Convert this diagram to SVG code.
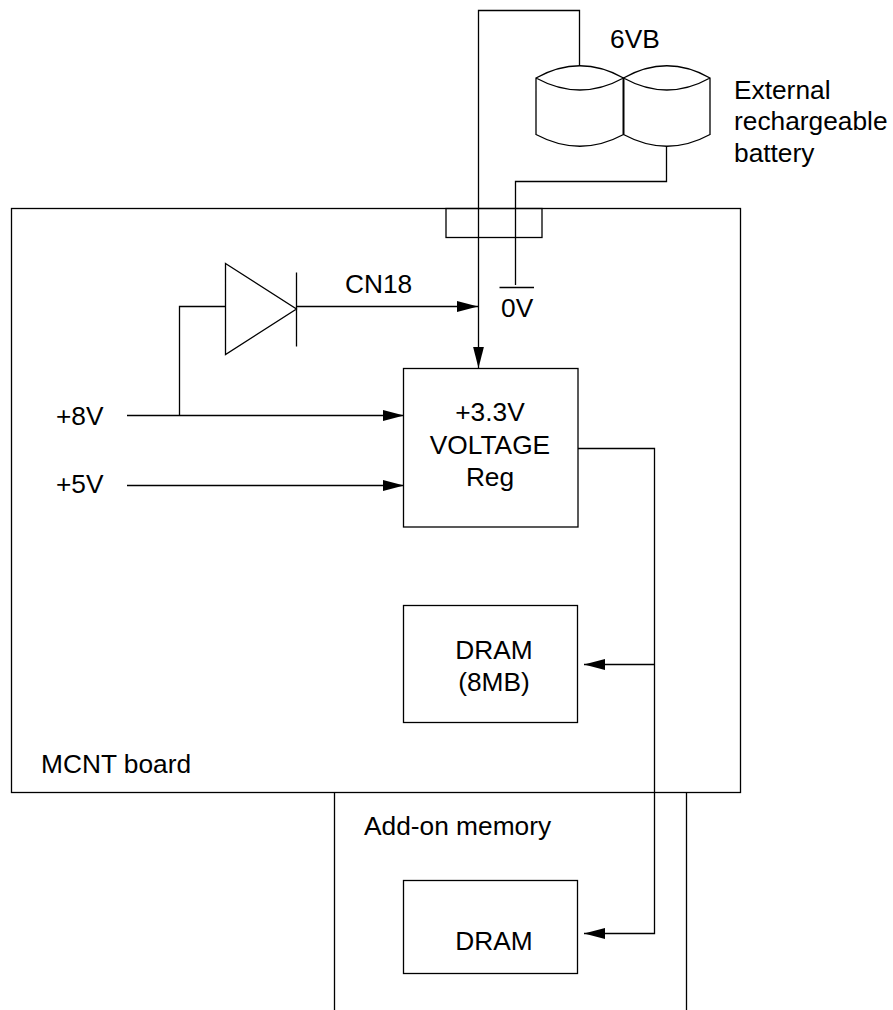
<svg xmlns="http://www.w3.org/2000/svg" width="893" height="1010" viewBox="0 0 893 1010">
<style>
.s{fill:none;stroke:#000;stroke-width:1.3}
text{font-family:"Liberation Sans",Arial,sans-serif;font-size:26.3px;fill:#000}
.m{text-anchor:middle}
</style>
<defs>
<marker id="a" markerUnits="userSpaceOnUse" markerWidth="21" markerHeight="12" refX="21" refY="6" orient="auto"><path d="M0 .6L21 6L0 11.4Z" fill="#000"/></marker>
</defs>
<rect width="893" height="1010" fill="#fff"/>
<g id="mcnt-board"><rect class="s" x="11.5" y="208.5" width="729" height="584"/><text x="41" y="773">MCNT board</text></g>
<g id="addon-memory"><path class="s" d="M334.500 792.500V1010M686.500 792.500V1010"/><text x="364" y="835">Add-on memory</text></g>
<g id="connector-block"><rect class="s" x="446" y="208.500" width="96" height="29"/></g>
<g id="battery"><path class="s" d="M536 78Q580 53.500 623.500 78Q667 53.500 710 78V134.500Q667 158 623.500 134.500Q580 158 536 134.500ZM536 78Q580 102 623.500 78Q667 102 710 78"/><path class="s" style="stroke-width:2" d="M623.500 78V134.500"/><text x="610" y="48">6VB</text></g>
<g id="battery-label"><text x="734" y="99">External</text><text x="734" y="130">rechargeable</text><text x="734" y="162">battery</text></g>
<g id="diode"><path class="s" d="M225.500 263.500L296.500 309L225.500 354.500ZM296.500 272.500V346.500"/></g>
<g id="ground"><path class="s" d="M499.500 287.500H534"/><text x="501" y="317">0V</text></g>
<g id="regulator"><rect class="s" x="403.500" y="368.500" width="174.500" height="158.500"/><text class="m" x="490" y="421">+3.3V</text><text class="m" x="490" y="454">VOLTAGE</text><text class="m" x="490" y="486">Reg</text></g>
<g id="dram-8mb"><rect class="s" x="403.500" y="605.500" width="174" height="117"/><text class="m" x="494" y="659">DRAM</text><text class="m" x="494" y="691">(8MB)</text></g>
<g id="dram-addon"><rect class="s" x="403.500" y="880.500" width="174" height="93"/><text class="m" x="494" y="950">DRAM</text></g>
<g id="labels"><text x="56" y="425">+8V</text><text x="56" y="493">+5V</text><text x="345" y="293">CN18</text></g>
<g id="connectors">
<path class="s" d="M579.500 66V10.500H478.500V368" marker-end="url(#a)"/>
<path class="s" d="M666.500 146V181.500H515.500V285"/>
<path class="s" d="M296.500 306.500H478" marker-end="url(#a)"/>
<path class="s" d="M225.500 306.500H179.500V415.500"/>
<path class="s" d="M127 415.500H404" marker-end="url(#a)"/>
<path class="s" d="M127 485.500H404" marker-end="url(#a)"/>
<path class="s" d="M578 448.500H654.500V933.500H584" marker-end="url(#a)"/>
<path class="s" d="M654.500 664.500H584" marker-end="url(#a)"/>
</g>
</svg>
